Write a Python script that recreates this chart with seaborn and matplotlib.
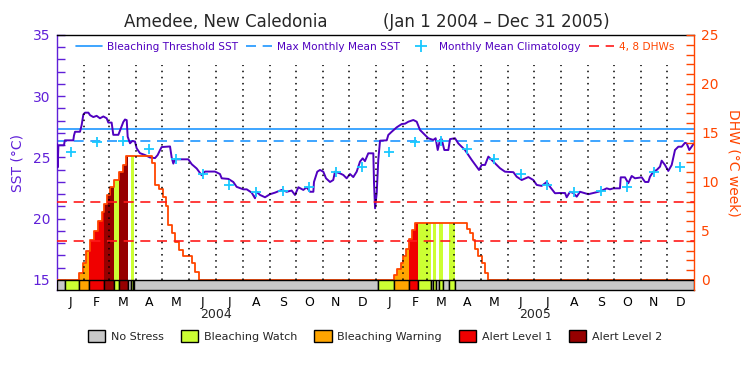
import numpy as np
import pandas as pd
import matplotlib
matplotlib.use('Agg')
import matplotlib.pyplot as plt
import seaborn as sns
from matplotlib.lines import Line2D
from matplotlib.patches import Patch

sns.set_style('white')
plt.rcParams['font.family'] = ['DejaVu Sans']

site = 'Amedee, New Caledonia'
period = '(Jan 1 2004 \u2013 Dec 31 2005)'
years = ['2004', '2005']
month_letters = list('JFMAMJJASOND') * 2

# x = days since Jan 1 2004
sst_days = [0, 0.8, 1.6, 8, 9, 18.7, 19.5, 20.7, 26.4, 28.3, 30.2, 32.1, 36, 38, 41.7, 45.5,
            49.3, 53.2, 57, 58.9, 62.7, 64.6, 70.4, 72.3, 76.1, 78, 80, 81.1, 83.8, 86.5,
            89.5, 91.4, 95.2, 101, 106.7, 112.5, 115.5, 118.2, 120.1, 129.7, 131.6, 133.5,
            135.4, 150.7, 154.6, 160.3, 166, 169.8, 181.3, 187, 189, 196.6, 202.3, 206.2,
            213.8, 217.7, 223.4, 227.2, 229.1, 233, 238.7, 244.4, 250.2, 257.8, 263.6,
            269.3, 273.1, 277, 282.7, 286.5, 290.3, 294.2, 294.9, 298.7, 301.8, 305.6,
            308.7, 313.3, 317, 319, 324.8, 328.6, 332.4, 336.2, 340, 343.9, 347.7, 350.8,
            353.4, 357.2, 363, 363.8, 365, 366.9, 368.7, 370.7, 378.4, 380.2, 384.1,
            389.8, 395.6, 399.4, 403.2, 408.9, 412.8, 416.6, 422.3, 426.1, 431.8, 434.5,
            436.9, 439.5, 441.4, 444.5, 449.1, 451, 456.7, 460.5, 468.2, 475.9, 481.6,
            484.3, 487.3, 491.2, 495, 498.8, 502.6, 508.4, 514.1, 523.7, 527.5, 533.3,
            540.9, 546.6, 550.5, 556.2, 562, 565.8, 571.5, 577.2, 583, 584.9, 588.7,
            592.5, 596.4, 600.2, 605.9, 609.7, 615.5, 621.2, 627, 630.8, 634.6, 638.4,
            646, 646.9, 651.8, 655.6, 659.5, 663.3, 671, 674.8, 678.6, 680.5, 684.3,
            688.2, 692, 693.9, 697.7, 701.5, 705.4, 709.2, 713, 716.9, 720.7, 722.6,
            725.6, 729.4, 731]
sst_vals = [26.1, 24.2, 26.0, 26.0, 26.4, 26.4, 26.8, 27.1, 27.1, 27.65, 28.5, 28.66, 28.66,
            28.45, 28.3, 28.4, 28.2, 28.35, 28.2, 27.85, 27.85, 26.85, 26.85, 27.2, 27.9,
            28.1, 28.05, 26.7, 26.16, 26.35, 26.3, 25.75, 25.35, 25.2, 25.0, 24.95, 25.2,
            25.6, 25.85, 25.9, 25.0, 24.5, 24.85, 24.85, 24.45, 24.1, 23.55, 23.85, 23.85,
            23.65, 23.3, 23.25, 23.0, 22.6, 22.4, 22.4, 22.13, 21.67, 22.2, 21.94, 21.75,
            22.0, 22.13, 22.35, 22.2, 22.3, 21.94, 22.57, 22.35, 22.57, 22.2, 22.2, 23.0,
            23.84, 23.98, 23.84, 23.3, 23.0, 23.16, 23.84, 23.7, 23.57, 23.3, 23.65, 23.4,
            23.84, 24.66, 24.93, 24.7, 25.34, 25.34, 22.9, 20.85, 22.1, 24.8, 26.37, 26.4,
            26.84, 27.1, 27.46, 27.73, 27.76, 27.92, 28.06, 27.92, 27.24, 26.84, 26.57,
            26.43, 26.57, 25.61, 26.43, 26.5, 25.61, 25.61, 26.5, 26.57, 26.15, 25.61,
            24.8, 24.25, 23.98, 24.39, 24.39, 25.07, 24.8, 24.52, 24.12, 23.84, 23.8,
            23.43, 23.16, 23.4, 23.16, 22.76, 22.68, 23.0, 22.6, 22.08, 22.1, 22.1, 21.75,
            22.2, 22.1, 21.8, 22.2, 22.08, 22.0, 22.1, 22.2, 22.35, 22.48, 22.4, 22.48,
            22.48, 23.38, 23.38, 22.9, 23.49, 23.3, 23.38, 23.0, 23.0, 23.43, 23.84, 23.98,
            24.25, 24.74, 24.39, 23.9, 24.39, 25.61, 25.88, 25.88, 26.2, 26.15, 25.61,
            26.0, 26.16]

clim_vals = [25.42, 26.27, 26.35, 25.67, 24.85, 23.65, 22.76, 22.2, 22.29, 22.57, 23.84, 24.25]
mmm = 26.35
threshold = 27.35
dhw_marks = [4, 8]

dhw_days = [0, 25.6, 30.2, 32.9, 37.9, 42.8, 47.4, 51.3, 54.3, 57.1, 61.2, 65.4, 71.2, 75.4,
            78.8, 109.5, 112.5, 117.0, 121.3, 125.1, 127.8, 131.6, 135.4, 140.0, 145.0,
            154.6, 158.4, 163.3, 386.8, 390.6, 394.4, 397.4, 400.5, 404.3, 407.0, 410.8,
            470.8, 473.9, 477.8, 479.7, 483.5, 487.4, 491.2, 495.0, 731]
dhw_vals = [0, 0.7, 1.7, 3.0, 4.1, 5.0, 6.0, 6.9, 7.8, 8.7, 9.5, 10.25, 11.0, 11.7, 12.6,
            11.9, 9.7, 9.3, 8.5, 7.5, 5.6, 4.8, 3.9, 3.1, 2.4, 1.7, 0.85, 0,
            0.5, 1.1, 1.7, 2.45, 3.2, 4.15, 5.1, 5.8, 5.2, 4.75, 4.1, 3.2, 2.4, 1.7, 0.7, 0, 0]

# alert status segments: 0 no stress, 1 watch, 2 warning, 3 alert 1, 4 alert 2
status_start = [0, 9.5, 25.6, 37.1, 54.3, 65.4, 71.2, 81.9, 84.9, 86.8, 88.7, 368.7, 387.1,
                404.3, 414.6, 429.2, 431.9, 435, 438.4, 442.6, 450.2, 456.7]
status_end = [9.5, 25.6, 37.1, 54.3, 65.4, 71.2, 81.9, 84.9, 86.8, 88.7, 368.7, 387.1, 404.3,
              414.6, 429.2, 431.9, 435, 438.4, 442.6, 450.2, 456.7, 731]
status_level = [0, 1, 2, 3, 4, 1, 4, 0, 1, 1, 0, 1, 2, 3, 1, 0, 1, 0, 1, 0, 1, 0]
status_names = ['No Stress', 'Bleaching Watch', 'Bleaching Warning', 'Alert Level 1', 'Alert Level 2']
status_colors = ['#c8c8c8', '#ccff33', '#ffa500', '#f00000', '#960000']

violet = '#6020d8'
sst_color = '#5000c0'
orange = '#ff4500'
blue = '#1e96ff'
cyan = '#19c8ff'

months = pd.date_range('2004-01-01', '2006-01-01', freq='MS')
mstart = np.array((months - months[0]).days, dtype=float)
mmid = (mstart[:-1] + mstart[1:]) / 2

sst_df = pd.DataFrame({'day': sst_days, 'sst': sst_vals})
clim_df = pd.DataFrame({'day': mmid, 'clim': clim_vals * 2})

fig = plt.figure(figsize=(7.5, 3.75), dpi=100)
ax = fig.add_axes([57 / 750, 85 / 375, 637 / 750, 255 / 375])
ax.set_xlim(0, 731)
ax.set_ylim(14.18, 35)
ax2 = ax.twinx()
ax2.set_ylim(-1.025, 25)

ax.axhline(threshold, color=blue, lw=1.2, zorder=2)
ax.axhline(mmm, color=blue, lw=1.2, ls=(0, (6, 4)), zorder=2)
sns.lineplot(x='day', y='sst', data=sst_df, ax=ax, color=sst_color, lw=1.4, zorder=3)
sns.scatterplot(x='day', y='clim', data=clim_df, ax=ax, marker='+', s=60, color=cyan,
                linewidth=1.3, zorder=4)


def dhw_at(x):
    i = np.searchsorted(dhw_days, x, side='right') - 1
    return dhw_vals[i]


for s, e, lev in zip(status_start, status_end, status_level):
    if lev == 0:
        continue
    xs = [s] + [d for d in dhw_days if s < d < e] + [e]
    ys = [dhw_at(x) for x in xs[:-1]]
    ys.append(ys[-1])
    ax2.fill_between(xs, 0, ys, step='post', color=status_colors[lev], lw=0, zorder=2)

ax2.step(dhw_days, dhw_vals, where='post', color=orange, lw=1.3, zorder=3)
for s, e, lev in zip(status_start, status_end, status_level):
    ax2.bar(s, 1.025, bottom=-1.025, width=e - s, align='edge', color=status_colors[lev],
            edgecolor='black', linewidth=1, zorder=5)
for d in dhw_marks:
    ax2.axhline(d, color='#ff1a1a', lw=1.2, ls=(0, (6, 4)), zorder=4)
ax2.vlines(mstart[1:-1], 0, 21.9, colors='black', lw=1.1, linestyles=(0, (1, 3)), zorder=4)

ax.set_yticks([15, 20, 25, 30, 35])
ax.set_yticks(range(15, 36), minor=True)
ax.tick_params(axis='y', which='both', direction='in', left=True, right=False,
               colors=violet, labelsize=10, length=6, width=1, pad=5)
ax2.set_yticks([0, 5, 10, 15, 20, 25])
ax2.set_yticks(range(0, 26), minor=True)
ax2.tick_params(axis='y', which='both', direction='in', right=True, left=False,
                colors=orange, labelsize=10, length=6, width=1, pad=5)
ax.set_xticks(mmid)
ax.set_xticklabels(month_letters)
ax.tick_params(axis='x', length=0, pad=4, labelsize=9, colors='black')
ax.set_xlabel('')
ax.set_ylabel('SST (\u00b0C)', color=violet, fontsize=10, labelpad=6)
ax2.set_ylabel('DHW (\u00b0C week)', color=orange, fontsize=10, rotation=-90, labelpad=16)
ax.grid(False)

for sp in ['left', 'top', 'bottom']:
    ax2.spines[sp].set_visible(False)
ax.spines['right'].set_visible(False)
ax.spines['left'].set_color(violet)
ax2.spines['right'].set_color(orange)
ax.spines['top'].set_color('black')
ax.spines['bottom'].set_color('black')
for sp in ax.spines.values():
    sp.set_linewidth(1)
ax2.spines['right'].set_linewidth(1)

for i, yr in enumerate(years):
    ax.text((mstart[12 * i] + mstart[12 * i + 12]) / 2, -0.097, yr, transform=ax.get_xaxis_transform(),
            ha='center', va='center', fontsize=9)

fig.text(226 / 750, 1 - 22 / 375, site, ha='center', va='center', fontsize=12)
fig.text(496 / 750, 1 - 22 / 375, period, ha='center', va='center', fontsize=12)

handles = [Line2D([], [], color=blue, lw=1.2),
           Line2D([], [], color=blue, lw=1.2, ls=(0, (6, 4))),
           Line2D([], [], color=cyan, ls='none', marker='+', ms=8, mew=1.3),
           Line2D([], [], color='#ff1a1a', lw=1.2, ls=(0, (6, 4)))]
labels = ['Bleaching Threshold SST', 'Max Monthly Mean SST', 'Monthly Mean Climatology', '4, 8 DHWs']
leg = ax2.legend(handles, labels, ncol=4, loc='upper center', bbox_to_anchor=(0.5, 0.99),
                 frameon=False, fontsize=7.6, handlelength=2.4, columnspacing=0.8,
                 handletextpad=0.5, borderaxespad=0)
for t in leg.get_texts():
    t.set_color(sst_color)
leg.get_texts()[-1].set_color(orange)

patches = [Patch(facecolor=c, edgecolor='black', lw=1) for c in status_colors]
fig.legend(patches, status_names, ncol=5, loc='center', bbox_to_anchor=(0.5, 1 - 336 / 375),
           frameon=False, fontsize=8, handlelength=1.6, handleheight=1.4, columnspacing=1.5,
           handletextpad=0.5)

fig.savefig('out.png', dpi=100)
